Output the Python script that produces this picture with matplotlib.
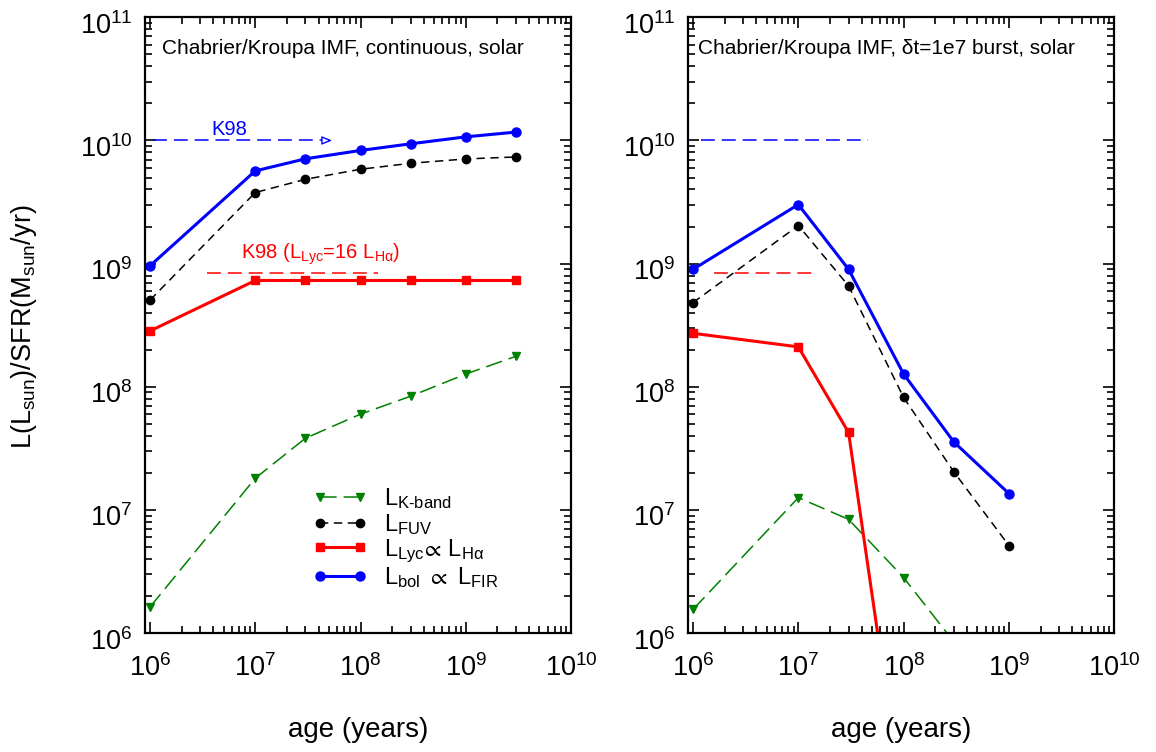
import numpy as np
import matplotlib
matplotlib.use('Agg')
import matplotlib.pyplot as plt
from matplotlib.transforms import ScaledTranslation

plt.rcParams['font.family'] = ['Liberation Sans', 'DejaVu Sans']
plt.rcParams['mathtext.fontset'] = 'custom'
plt.rcParams['mathtext.rm'] = 'Liberation Sans'
plt.rcParams['mathtext.it'] = 'Liberation Sans:italic'
plt.rcParams['mathtext.bf'] = 'Liberation Sans:bold'
plt.rcParams['lines.scale_dashes'] = False

# continuous star formation (left panel)
age_cont = [1e6, 1e7, 3e7, 1e8, 3e8, 1e9, 3e9]
bol_cont = [9.6e8, 5.66e9, 7.1e9, 8.3e9, 9.4e9, 1.07e10, 1.17e10]
fuv_cont = [5.05e8, 3.78e9, 4.84e9, 5.84e9, 6.53e9, 7.08e9, 7.35e9]
lyc_cont = [2.84e8, 7.3e8, 7.3e8, 7.3e8, 7.3e8, 7.3e8, 7.3e8]
kband_cont = [1.63e6, 1.81e7, 3.83e7, 6.0e7, 8.4e7, 1.27e8, 1.77e8]

# 1e7 yr burst (right panel)
age_burst = [1e6, 1e7, 3e7, 1e8, 3e8, 1e9]
bol_burst = [9.0e8, 3.02e9, 9.0e8, 1.27e8, 3.57e7, 1.36e7]
fuv_burst = [4.83e8, 2.04e9, 6.6e8, 8.2e7, 2.04e7, 5.15e6]
lyc_burst = [2.72e8, 2.11e8, 4.26e7, 3.5e4]
kband_burst = [1.56e6, 1.26e7, 8.4e6, 2.83e6, 8.5e5]

# Kennicutt 1998 reference levels
k98_bol = 1e10
k98_lyc = 8.36e8
k98_bol_x = {'left': [1.07e6, 5.0e7], 'right': [1.2e6, 4.56e7]}
k98_lyc_x = {'left': [3.45e6, 1.47e8], 'right': [1.58e6, 1.34e7]}

xticks = [1e6, 1e7, 1e8, 1e9, 1e10]
yticks = [1e6, 1e7, 1e8, 1e9, 1e10, 1e11]

fig = plt.figure(figsize=(11.56, 7.52), dpi=100)
ax1 = fig.add_axes([0.1254, 0.158, 0.3686, 0.819])
ax2 = fig.add_axes([0.5952, 0.158, 0.3686, 0.819])


def style(ax):
    ax.set_xscale('log')
    ax.set_yscale('log')
    ax.set_xlim(8.96e5, 1e10)
    ax.set_ylim(1e6, 1e11)
    ax.set_xticks(xticks)
    ax.set_xticklabels([r'$\mathregular{10^{%d}}$' % int(np.log10(v)) for v in xticks])
    ax.set_yticks(yticks)
    ax.set_yticklabels([r'$\mathregular{10^{%d}}$' % int(np.log10(v)) for v in yticks])
    ax.tick_params(which='both', direction='in', top=True, right=True, width=1.2)
    ax.tick_params(which='major', length=8)
    ax.tick_params(which='minor', length=5)
    ax.tick_params(axis='x', which='major', labelsize=19.5, pad=15)
    ax.tick_params(axis='y', which='major', labelsize=19.5, pad=9)
    # nudge y labels down a little, like the original
    off = ScaledTranslation(0, -4 / 72, fig.dpi_scale_trans)
    for lab in ax.get_yticklabels():
        lab.set_transform(lab.get_transform() + off)
    for s in ax.spines.values():
        s.set_linewidth(1.6)
    ax.text(0.5, -0.157, 'age (years)', transform=ax.transAxes,
            ha='center', va='center', fontsize=20)


def curves(ax, age, bol, fuv, lyc, kb):
    ax.plot(age[:len(kb)], kb, color='green', lw=1.1, dashes=(12, 5),
            marker='v', ms=6, label=r'$\mathregular{L_{K\text{-}band}}$')
    ax.plot(age, fuv, color='black', lw=1.1, dashes=(6, 4),
            marker='o', ms=6, label=r'$\mathregular{L_{FUV}}$')
    ax.plot(age[:len(lyc)], lyc, color='red', lw=2.2, marker='s', ms=6,
            label=r'$\mathregular{L_{Lyc}\!\propto\, L_{H\alpha}}$')
    ax.plot(age, bol, color='blue', lw=2.2, marker='o', ms=6.5,
            label=r'$\mathregular{L_{bol}\ \propto\ L_{FIR}}$')


style(ax1)
style(ax2)
curves(ax1, age_cont, bol_cont, fuv_cont, lyc_cont, kband_cont)
curves(ax2, age_burst, bol_burst, fuv_burst, lyc_burst, kband_burst)

# K98 lines
ax1.plot(k98_bol_x['left'], [k98_bol, k98_bol], color='blue', lw=1.1, dashes=(10, 5))
ax1.annotate('', xy=(5.7e7, k98_bol), xytext=(4.4e7, k98_bol),
             arrowprops=dict(arrowstyle='-|>,head_length=0.6,head_width=0.25',
                             fc='white', ec='blue', lw=1.0))
ax1.plot(k98_lyc_x['left'], [k98_lyc, k98_lyc], color='red', lw=1.1, dashes=(10, 5))
ax1.text(3.8e6, 1.10e10, 'K98', color='blue', fontsize=14.5, va='baseline')
ax1.text(7.3e6, 1.09e9, r'K98 ($\mathregular{L_{Lyc}}$=16 $\mathregular{L_{H\alpha}}$)',
         color='red', fontsize=14.5, va='baseline')

ax2.plot(k98_bol_x['right'], [k98_bol, k98_bol], color='blue', lw=1.1, dashes=(10, 5))
ax2.plot(k98_lyc_x['right'], [k98_lyc, k98_lyc], color='red', lw=1.1, dashes=(10, 5))

ax1.text(0.04, 0.95, 'Chabrier/Kroupa IMF, continuous, solar',
         transform=ax1.transAxes, fontsize=15, va='center')
ax2.text(0.023, 0.95, 'Chabrier/Kroupa IMF, δt=1e7 burst, solar',
         transform=ax2.transAxes, fontsize=15, va='center')

ax1.legend(loc='upper left', bbox_to_anchor=(0.355, 0.265), frameon=False,
           fontsize=17, numpoints=2, handlelength=2.3, handletextpad=0.7,
           labelspacing=0.02, borderpad=0.2)

fig.text(24 / 1156, 1 - 327 / 752,
         r'$\mathregular{L(L_{sun})/SFR(M_{sun}/yr)}$',
         rotation=90, ha='center', va='center', fontsize=19.5)

fig.savefig('out.png', dpi=100)
